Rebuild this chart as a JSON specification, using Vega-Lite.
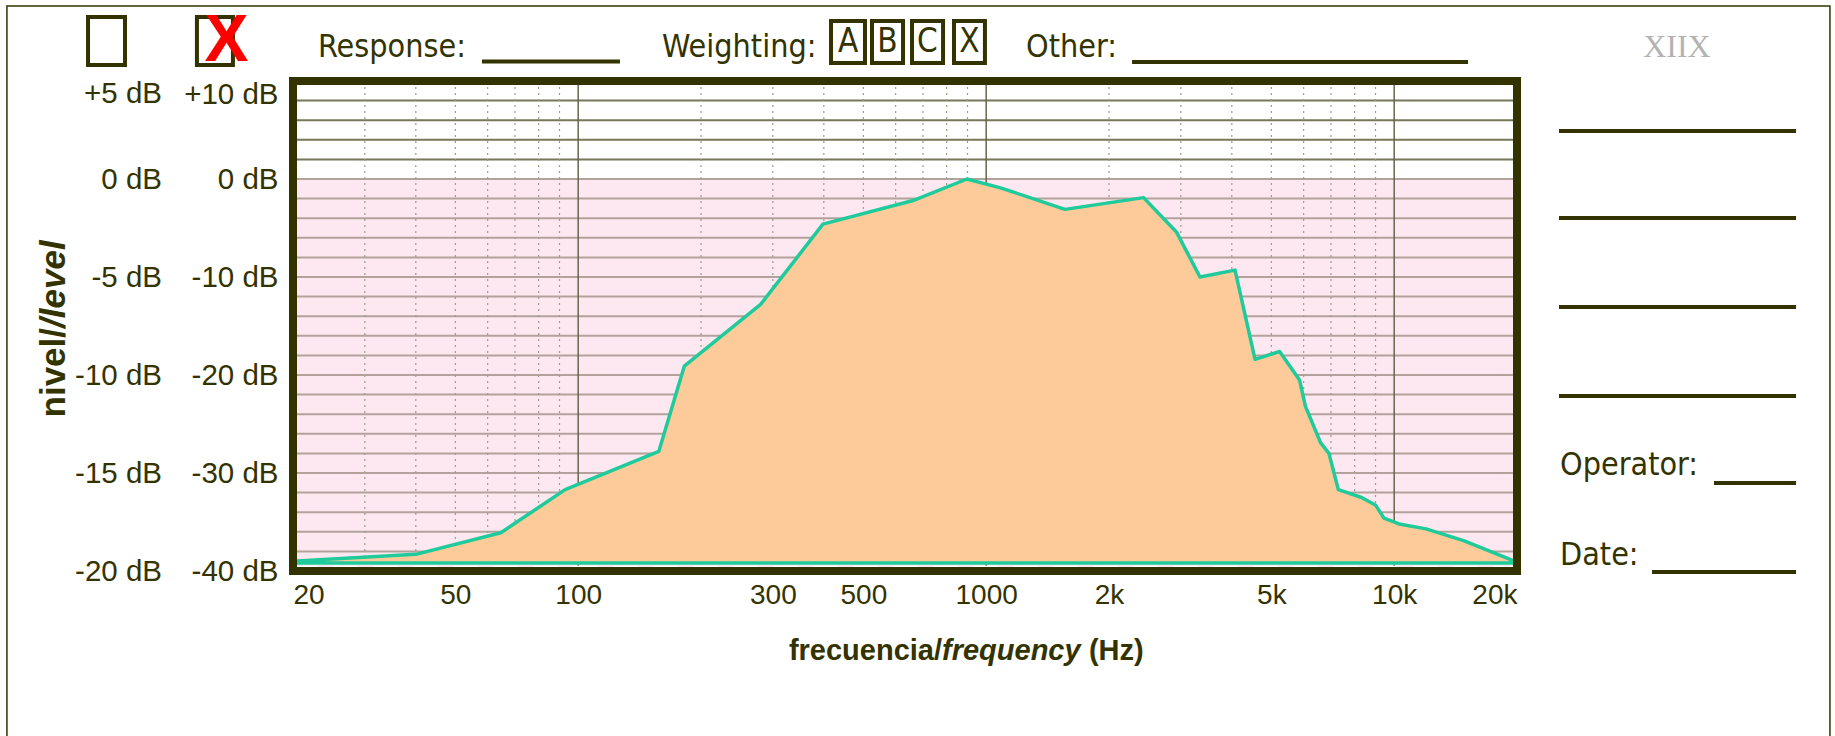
{
  "$schema": "https://vega.github.io/schema/vega-lite/v6.json",
  "width": 1224,
  "height": 490,
  "autosize": {"type": "none"},
  "padding": {"left": 293, "top": 81, "right": 318, "bottom": 165},
  "background": "white",
  "config": {"view": {"stroke": null}},
  "datasets": {
    "bands": [{"f": 20, "f2": 20000, "db": 0, "db2": -40}],
    "frame": [{"f": 20, "f2": 20000, "db": -40, "db2": 10}],
    "border": [{"f": 3.98, "f2": 116960, "db": 17.65, "db2": -63.4}],
    "hgrid": [{"db": -38}, {"db": -36}, {"db": -34}, {"db": -32}, {"db": -30}, {"db": -28}, {"db": -26}, {"db": -24}, {"db": -22}, {"db": -20}, {"db": -18}, {"db": -16}, {"db": -14}, {"db": -12}, {"db": -10}, {"db": -8}, {"db": -6}, {"db": -4}, {"db": -2}, {"db": 0}, {"db": 2}, {"db": 4}, {"db": 6}, {"db": 8}],
    "vdotted": [{"f": 30}, {"f": 40}, {"f": 50}, {"f": 60}, {"f": 70}, {"f": 80}, {"f": 90}, {"f": 200}, {"f": 300}, {"f": 400}, {"f": 500}, {"f": 600}, {"f": 700}, {"f": 800}, {"f": 900}, {"f": 2000}, {"f": 3000}, {"f": 4000}, {"f": 5000}, {"f": 6000}, {"f": 7000}, {"f": 8000}, {"f": 9000}],
    "vsolid": [{"f": 100}, {"f": 1000}, {"f": 10000}],
    "curve": [
      {"f": 20, "db": -39.0}, {"f": 40, "db": -38.3}, {"f": 64.6, "db": -36.1}, {"f": 92.9, "db": -31.7},
      {"f": 157.6, "db": -27.8}, {"f": 182, "db": -19.1}, {"f": 280, "db": -12.8}, {"f": 398, "db": -4.6},
      {"f": 662, "db": -2.2}, {"f": 897, "db": 0}, {"f": 1084, "db": -0.9}, {"f": 1560, "db": -3.1},
      {"f": 2431, "db": -1.9}, {"f": 2926, "db": -5.4}, {"f": 3342, "db": -10.0}, {"f": 4073, "db": -9.3},
      {"f": 4560, "db": -18.4}, {"f": 5238, "db": -17.6}, {"f": 5862, "db": -20.5}, {"f": 6060, "db": -23.2},
      {"f": 6600, "db": -26.9}, {"f": 6920, "db": -28.0}, {"f": 7296, "db": -31.7}, {"f": 8320, "db": -32.5},
      {"f": 9012, "db": -33.3}, {"f": 9440, "db": -34.6}, {"f": 10280, "db": -35.2}, {"f": 11968, "db": -35.7},
      {"f": 14792, "db": -36.9}, {"f": 20000, "db": -39.1}
    ],
    "boxes": [
      {"f": 6.29, "f2": 7.75, "db": 11.63, "db2": 16.53},
      {"f": 11.63, "f2": 14.25, "db": 11.63, "db2": 16.53},
      {"f": 416.6, "f2": 504.6, "db": 11.84, "db2": 16.12},
      {"f": 525, "f2": 625.5, "db": 11.84, "db2": 16.12},
      {"f": 658, "f2": 784, "db": 11.84, "db2": 16.12},
      {"f": 834, "f2": 993, "db": 11.84, "db2": 16.12}
    ],
    "lines": [
      {"f": 58.1, "f2": 126.6, "db": 11.99},
      {"f": 2278, "f2": 15172, "db": 11.94},
      {"f": 25352, "f2": 96600, "db": 4.9},
      {"f": 25352, "f2": 96600, "db": -3.98},
      {"f": 25352, "f2": 96600, "db": -13.06},
      {"f": 25352, "f2": 96600, "db": -22.14},
      {"f": 60800, "f2": 96600, "db": -31.02},
      {"f": 42860, "f2": 96600, "db": -40.1}
    ],
    "labels": [
      {"label": "Response:", "f": 23.03, "db": 13.47},
      {"label": "Weighting:", "f": 160.5, "db": 13.47},
      {"label": "Other:", "f": 1252, "db": 13.47},
      {"label": "Operator:", "f": 25500, "db": -29.18},
      {"label": "Date:", "f": 25500, "db": -38.37}
    ],
    "letters": [
      {"label": "A", "f": 458.6, "db": 13.98},
      {"label": "B", "f": 573, "db": 13.98},
      {"label": "C", "f": 718, "db": 13.98},
      {"label": "X", "f": 910, "db": 13.98}
    ],
    "redx": [{"label": "X", "f": 13.74, "db": 14.1}],
    "logo": [{"label": "XIIX", "f": 49320, "db": 13.47}],
    "ytitleA": [{"label": "nivel/", "f": 5.19, "db": -15.2}],
    "ytitleB": [{"label": "/level", "f": 5.19, "db": -15.2}],
    "xtitleA": [{"label": "frecuencia/", "f": 779.4, "db": -48.16}],
    "xtitleB": [{"label": "frequency", "f": 779.4, "db": -48.16}],
    "xtitleC": [{"label": "(Hz)", "f": 1786, "db": -48.16}],
    "scale5": [{"v": -20}, {"v": 5}]
  },
  "resolve": {"scale": {"y": "independent"}},
  "layer": [
    {
      "layer": [
        {
          "data": {"name": "bands"},
          "mark": {"type": "rect", "fill": "#fde8f1"},
          "encoding": {
            "x": {"field": "f", "type": "quantitative", "scale": {"type": "log", "domain": [20, 20000], "nice": false},
              "axis": {"values": [20, 50, 100, 300, 500, 1000, 2000, 5000, 10000, 20000],
                "labelExpr": "datum.value >= 2000 ? (datum.value/1000) + 'k' : '' + datum.value",
                "labelFlush": true, "labelOverlap": false, "title": null, "ticks": false, "domain": false, "grid": false,
                "labelPadding": 10, "labelFont": "Liberation Sans, Arial, sans-serif",
                "labelFontSize": 28, "labelColor": "#333300"}},
            "x2": {"field": "f2"},
            "y": {"field": "db", "type": "quantitative", "scale": {"domain": [-40, 10], "nice": false, "zero": false},
              "axis": {"orient": "left", "values": [-40, -30, -20, -10, 0, 8.67],
                "labelExpr": "datum.value > 5 ? '+10 dB' : datum.value + ' dB'",
                "labelOverlap": false, "title": null, "ticks": false, "domain": false, "grid": false,
                "labelPadding": 15, "labelFont": "Liberation Sans, Arial, sans-serif",
                "labelFontSize": 29.5, "labelColor": "#333300", "labelBaseline": "middle"}},
            "y2": {"field": "db2"}
          }
        },
        {
          "data": {"name": "hgrid"},
          "mark": {"type": "rule", "strokeWidth": 2},
          "encoding": {
            "y": {"field": "db", "type": "quantitative", "scale": {"domain": [-40, 10], "nice": false, "zero": false}},
            "color": {"condition": {"test": "datum.db > 0", "value": "#77775a"}, "value": "#b3a29c"}
          }
        },
        {
          "data": {"name": "vdotted"},
          "mark": {"type": "rule", "strokeWidth": 1.2, "color": "#9c9c8c", "strokeDash": [2, 4]},
          "encoding": {
            "x": {"field": "f", "type": "quantitative", "scale": {"type": "log", "domain": [20, 20000], "nice": false}}
          }
        },
        {
          "data": {"name": "vsolid"},
          "mark": {"type": "rule", "strokeWidth": 1.5, "color": "#66664a"},
          "encoding": {
            "x": {"field": "f", "type": "quantitative", "scale": {"type": "log", "domain": [20, 20000], "nice": false}}
          }
        },
        {
          "data": {"name": "curve"},
          "mark": {"type": "area", "fill": "#fccb99", "stroke": "#1fcb9b", "strokeWidth": 3.5, "strokeJoin": "round"},
          "encoding": {
            "x": {"field": "f", "type": "quantitative", "scale": {"type": "log", "domain": [20, 20000], "nice": false}},
            "y": {"field": "db", "type": "quantitative", "scale": {"domain": [-40, 10], "nice": false, "zero": false}},
            "y2": {"datum": -39.18}
          }
        },
        {
          "data": {"name": "frame"},
          "mark": {"type": "rule", "strokeWidth": 2.5, "color": "white", "strokeDash": [24, 16]},
          "encoding": {
            "y": {"datum": -39.6, "type": "quantitative", "scale": {"domain": [-40, 10], "nice": false, "zero": false}}
          }
        },
        {
          "data": {"name": "frame"},
          "mark": {"type": "rect", "filled": false, "stroke": "#333300", "strokeWidth": 8},
          "encoding": {
            "x": {"field": "f", "type": "quantitative", "scale": {"type": "log", "domain": [20, 20000], "nice": false}},
            "x2": {"field": "f2"},
            "y": {"field": "db", "type": "quantitative", "scale": {"domain": [-40, 10], "nice": false, "zero": false}},
            "y2": {"field": "db2"}
          }
        },
        {
          "data": {"name": "border"},
          "mark": {"type": "rect", "filled": false, "stroke": "#333300", "strokeWidth": 1.5},
          "encoding": {
            "x": {"field": "f", "type": "quantitative", "scale": {"type": "log", "domain": [20, 20000], "nice": false}},
            "x2": {"field": "f2"},
            "y": {"field": "db", "type": "quantitative", "scale": {"domain": [-40, 10], "nice": false, "zero": false}},
            "y2": {"field": "db2"}
          }
        },
        {
          "data": {"name": "boxes"},
          "mark": {"type": "rect", "filled": false, "stroke": "#333300", "strokeWidth": 4},
          "encoding": {
            "x": {"field": "f", "type": "quantitative", "scale": {"type": "log", "domain": [20, 20000], "nice": false}},
            "x2": {"field": "f2"},
            "y": {"field": "db", "type": "quantitative", "scale": {"domain": [-40, 10], "nice": false, "zero": false}},
            "y2": {"field": "db2"}
          }
        },
        {
          "data": {"name": "lines"},
          "mark": {"type": "rule", "stroke": "#333300", "strokeWidth": 4},
          "encoding": {
            "x": {"field": "f", "type": "quantitative", "scale": {"type": "log", "domain": [20, 20000], "nice": false}},
            "x2": {"field": "f2"},
            "y": {"field": "db", "type": "quantitative", "scale": {"domain": [-40, 10], "nice": false, "zero": false}}
          }
        },
        {
          "data": {"name": "labels"},
          "mark": {"type": "text", "align": "left", "baseline": "middle", "font": "DejaVu Sans Condensed, DejaVu Sans, sans-serif", "fontSize": 32, "fill": "#333300"},
          "encoding": {
            "x": {"field": "f", "type": "quantitative", "scale": {"type": "log", "domain": [20, 20000], "nice": false}},
            "y": {"field": "db", "type": "quantitative", "scale": {"domain": [-40, 10], "nice": false, "zero": false}},
            "text": {"field": "label"}
          }
        },
        {
          "data": {"name": "letters"},
          "mark": {"type": "text", "align": "center", "baseline": "middle", "font": "DejaVu Sans Condensed, DejaVu Sans, sans-serif", "fontSize": 33, "fill": "#333300"},
          "encoding": {
            "x": {"field": "f", "type": "quantitative", "scale": {"type": "log", "domain": [20, 20000], "nice": false}},
            "y": {"field": "db", "type": "quantitative", "scale": {"domain": [-40, 10], "nice": false, "zero": false}},
            "text": {"field": "label"}
          }
        },
        {
          "data": {"name": "redx"},
          "mark": {"type": "text", "align": "center", "baseline": "middle", "font": "Liberation Sans, Arial, sans-serif", "fontWeight": "bold", "fontSize": 66, "fill": "#ff0000"},
          "encoding": {
            "x": {"field": "f", "type": "quantitative", "scale": {"type": "log", "domain": [20, 20000], "nice": false}},
            "y": {"field": "db", "type": "quantitative", "scale": {"domain": [-40, 10], "nice": false, "zero": false}},
            "text": {"field": "label"}
          }
        },
        {
          "data": {"name": "logo"},
          "mark": {"type": "text", "align": "center", "baseline": "middle", "font": "Liberation Serif, Times New Roman, serif", "fontSize": 32, "fill": "#b3b3b3"},
          "encoding": {
            "x": {"field": "f", "type": "quantitative", "scale": {"type": "log", "domain": [20, 20000], "nice": false}},
            "y": {"field": "db", "type": "quantitative", "scale": {"domain": [-40, 10], "nice": false, "zero": false}},
            "text": {"field": "label"}
          }
        },
        {
          "data": {"name": "ytitleA"},
          "mark": {"type": "text", "align": "right", "baseline": "middle", "angle": 270, "font": "Liberation Sans, Arial, sans-serif", "fontWeight": "bold", "fontSize": 35, "fill": "#333300"},
          "encoding": {
            "x": {"field": "f", "type": "quantitative", "scale": {"type": "log", "domain": [20, 20000], "nice": false}},
            "y": {"field": "db", "type": "quantitative", "scale": {"domain": [-40, 10], "nice": false, "zero": false}},
            "text": {"field": "label"}
          }
        },
        {
          "data": {"name": "ytitleB"},
          "mark": {"type": "text", "align": "left", "baseline": "middle", "angle": 270, "font": "Liberation Sans, Arial, sans-serif", "fontWeight": "bold", "fontStyle": "italic", "fontSize": 35, "fill": "#333300"},
          "encoding": {
            "x": {"field": "f", "type": "quantitative", "scale": {"type": "log", "domain": [20, 20000], "nice": false}},
            "y": {"field": "db", "type": "quantitative", "scale": {"domain": [-40, 10], "nice": false, "zero": false}},
            "text": {"field": "label"}
          }
        },
        {
          "data": {"name": "xtitleA"},
          "mark": {"type": "text", "align": "right", "baseline": "middle", "font": "Liberation Sans, Arial, sans-serif", "fontWeight": "bold", "fontSize": 29, "fill": "#333300"},
          "encoding": {
            "x": {"field": "f", "type": "quantitative", "scale": {"type": "log", "domain": [20, 20000], "nice": false}},
            "y": {"field": "db", "type": "quantitative", "scale": {"domain": [-40, 10], "nice": false, "zero": false}},
            "text": {"field": "label"}
          }
        },
        {
          "data": {"name": "xtitleB"},
          "mark": {"type": "text", "align": "left", "baseline": "middle", "font": "Liberation Sans, Arial, sans-serif", "fontWeight": "bold", "fontStyle": "italic", "fontSize": 29, "fill": "#333300"},
          "encoding": {
            "x": {"field": "f", "type": "quantitative", "scale": {"type": "log", "domain": [20, 20000], "nice": false}},
            "y": {"field": "db", "type": "quantitative", "scale": {"domain": [-40, 10], "nice": false, "zero": false}},
            "text": {"field": "label"}
          }
        },
        {
          "data": {"name": "xtitleC"},
          "mark": {"type": "text", "align": "left", "baseline": "middle", "font": "Liberation Sans, Arial, sans-serif", "fontWeight": "bold", "fontSize": 29, "fill": "#333300"},
          "encoding": {
            "x": {"field": "f", "type": "quantitative", "scale": {"type": "log", "domain": [20, 20000], "nice": false}},
            "y": {"field": "db", "type": "quantitative", "scale": {"domain": [-40, 10], "nice": false, "zero": false}},
            "text": {"field": "label"}
          }
        }
      ]
    },
    {
      "data": {"name": "scale5"},
      "mark": {"type": "point", "opacity": 0},
      "encoding": {
        "y": {"field": "v", "type": "quantitative", "scale": {"domain": [-20, 5], "nice": false, "zero": false},
          "axis": {"orient": "left", "offset": 116, "values": [-20, -15, -10, -5, 0, 4.34],
            "labelExpr": "datum.value > 3 ? '+5 dB' : datum.value + ' dB'",
            "labelOverlap": false, "title": null, "ticks": false, "domain": false, "grid": false,
            "labelPadding": 15.5, "labelFont": "Liberation Sans, Arial, sans-serif",
            "labelFontSize": 29.5, "labelColor": "#333300", "labelBaseline": "middle"}}
      }
    }
  ]
}
